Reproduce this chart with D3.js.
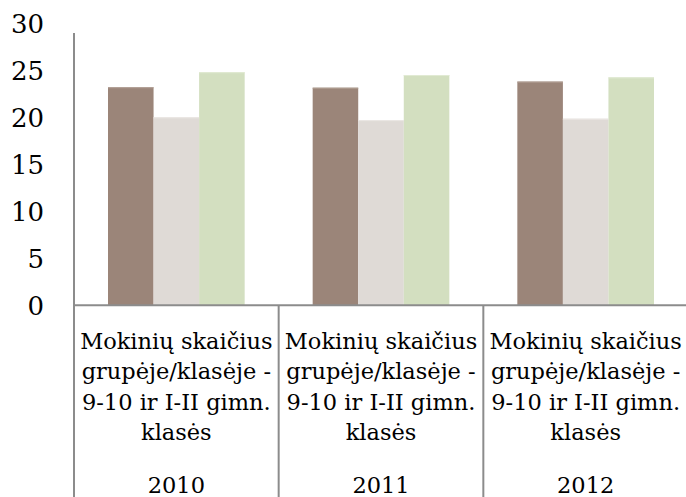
<!DOCTYPE html>
<html>
<head>
<meta charset="utf-8">
<script src="https://cdn.jsdelivr.net/npm/d3@7"></script>
<style>
  body { margin: 0; background: #fff; }
  svg { display: block; }
</style>
</head>
<body>
<div class="display"></div>
<script>
// chart values
const years = ["2010", "2011", "2012"];
const categoryLines = ["Mokinių skaičius", "grupėje/klasėje -", "9-10 ir I-II gimn.", "klasės"];
const seriesKeys = ["s1", "s2", "s3"];
const s1Values = [23.2, 23.15, 23.8];
const s2Values = [20.0, 19.7, 19.85];
const s3Values = [24.8, 24.5, 24.25];
const yTicks = [0, 5, 10, 15, 20, 25, 30];

const colors = { s1: "#9b8579", s2: "#dfdad6", s3: "#d3dfc0" };
const topColors = { s1: "#b3a196", s2: "#ebe7e4", s3: "#e1ead3" };

const width = 686, height = 497;
const margin = { top: 23.3, left: 74, bottom: 305.3 };
const plotRight = 688;

const svg = d3.select(".display").append("svg")
  .attr("width", width)
  .attr("height", height);

//scales
const x0 = d3.scaleBand().domain(years).range([margin.left, plotRight]).padding(0);
// 34px gap on each side of the three bars inside a group
const x1 = d3.scaleBand().domain(seriesKeys).range([34, x0.bandwidth() - 34]).padding(0);
const y = d3.scaleLinear().domain([0, 30]).range([margin.bottom, margin.top]);

const rows = years.map((yr, i) => ({ year: yr, s1: s1Values[i], s2: s2Values[i], s3: s3Values[i] }));

//bars
const groups = svg.selectAll(".grp").data(rows).enter().append("g")
  .attr("class", "grp")
  .attr("transform", d => `translate(${x0(d.year)},0)`);

groups.selectAll("rect.bar").data(d => seriesKeys.map(k => ({ key: k, value: d[k] })))
  .enter().append("rect")
  .attr("class", "bar")
  .attr("x", d => x1(d.key))
  .attr("y", d => y(d.value))
  .attr("width", x1.bandwidth())
  .attr("height", d => y(0) - y(d.value))
  .attr("fill", d => colors[d.key]);

groups.selectAll("line.bartop").data(d => seriesKeys.map(k => ({ key: k, value: d[k] })))
  .enter().append("line")
  .attr("class", "bartop")
  .attr("x1", d => x1(d.key))
  .attr("x2", d => x1(d.key) + x1.bandwidth())
  .attr("y1", d => y(d.value) + 0.5)
  .attr("y2", d => y(d.value) + 0.5)
  .attr("stroke", d => topColors[d.key])
  .attr("stroke-width", 1);

//y axis labels
const yaxis = d3.axisLeft(y).tickValues(yTicks).tickSize(0).tickPadding(30);
const yg = svg.append("g").attr("transform", `translate(${margin.left},0)`).call(yaxis);
yg.select(".domain").remove();
yg.selectAll("text")
  .attr("font-family", "'DejaVu Serif', serif")
  .attr("font-size", 26)
  .attr("fill", "#000")
  .attr("dy", "0.35em");

//axis lines
const axisColor = "#8c8c8c";
svg.append("line")
  .attr("x1", margin.left).attr("x2", margin.left)
  .attr("y1", 33).attr("y2", height)
  .attr("stroke", axisColor).attr("stroke-width", 2);
svg.append("line")
  .attr("x1", margin.left).attr("x2", plotRight)
  .attr("y1", y(0)).attr("y2", y(0))
  .attr("stroke", axisColor).attr("stroke-width", 2);

//group separators
svg.selectAll(".sep").data(years.slice(1)).enter().append("line")
  .attr("class", "sep")
  .attr("x1", d => x0(d)).attr("x2", d => x0(d))
  .attr("y1", y(0)).attr("y2", height)
  .attr("stroke", axisColor).attr("stroke-width", 2);

//category labels
const lab = svg.selectAll(".cat").data(years).enter().append("g")
  .attr("class", "cat")
  .attr("transform", d => `translate(${x0(d) + x0.bandwidth() / 2},0)`)
  .attr("font-family", "'DejaVu Serif', serif")
  .attr("text-anchor", "middle")
  .attr("fill", "#000");

lab.selectAll("text.line").data(categoryLines).enter().append("text")
  .attr("class", "line")
  .attr("y", (d, i) => 349 + i * 30.3)
  .attr("font-size", 22.5)
  .text(d => d);

lab.append("text")
  .attr("y", 493)
  .attr("font-size", 22.5)
  .text(d => d);
</script>
</body>
</html>
